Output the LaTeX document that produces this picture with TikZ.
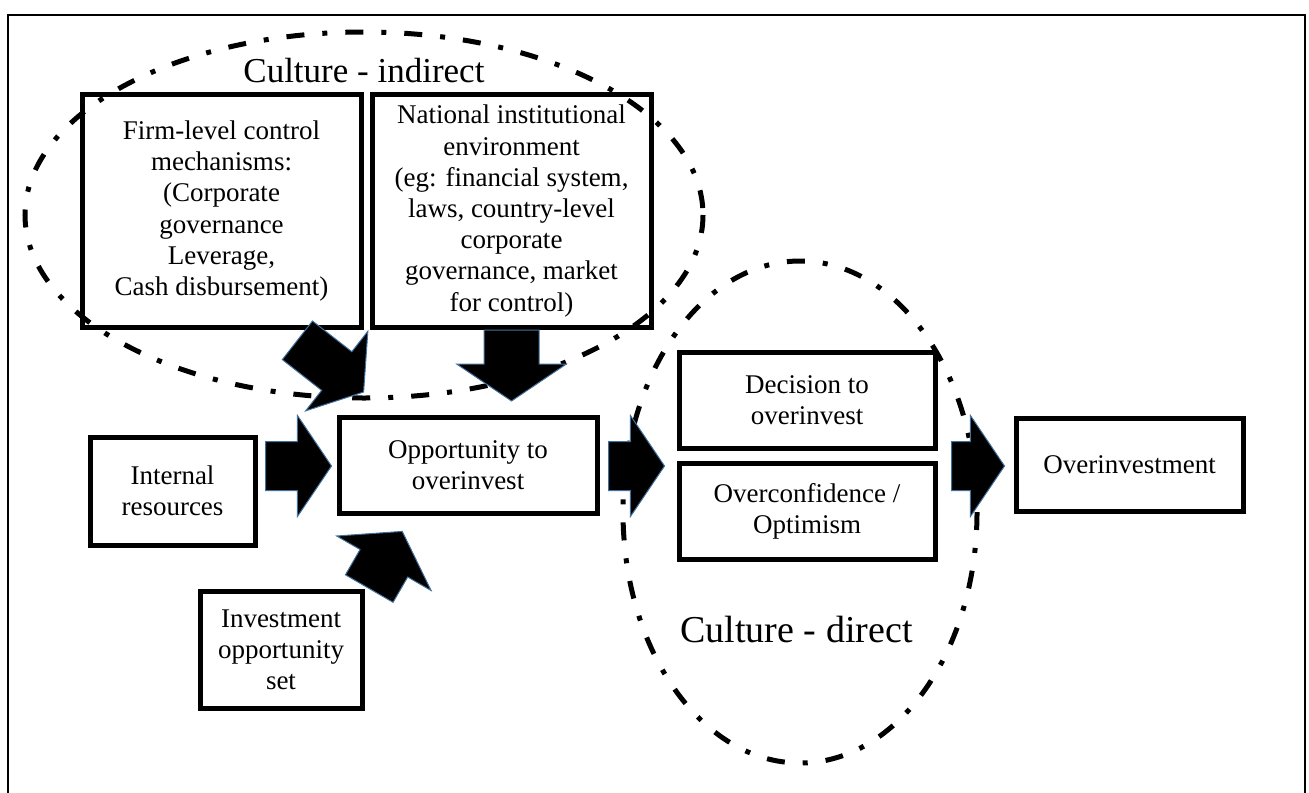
\documentclass[tikz,border=0pt]{standalone}
\usepackage{fontspec}
\setmainfont{Liberation Serif}
\usetikzlibrary{shapes.arrows}
\definecolor{arrowblue}{HTML}{41719C}

\begin{document}
\begin{tikzpicture}[x=0.5pt, y=-0.5pt,
  box/.style = {draw, line width=2.5pt, align=center, inner sep=2pt, font=\fontsize{13.5}{15.6}\selectfont},
  blk/.style = {single arrow, fill=black, draw=arrowblue, line width=0.5pt, inner xsep=0pt, inner ysep=12pt,
    single arrow head extend=13pt, single arrow tip angle=112, anchor=tail},
  bigblk/.style = {blk, inner ysep=13.5pt, single arrow head extend=13.5pt},
  culture/.style = {line width=2.5pt, dash pattern=on 9pt off 9pt on 2.5pt off 9pt},
  lbl/.style = {font=\fontsize{17.5}{21}\selectfont, inner sep=0pt, anchor=base west}]
\useasboundingbox (0,0) rectangle (1309,792);
\draw[line width=1.2pt] (8,800) -- (8,15) -- (1305,15) -- (1305,800);

% boxes
\node[box, minimum width=139.5pt, minimum height=116pt] (firm) at (221.5,211)
  {Firm-level control\\mechanisms:\\(Corporate\\governance\\Leverage,\\Cash disbursement)};
\node[box, minimum width=139.5pt, minimum height=116pt] (natl) at (511.5,211)
  {National institutional\\environment\\(eg: financial system,\\laws, country-level\\corporate\\governance, market\\for control)};
\node[box, minimum width=82.5pt, minimum height=54pt] (intres) at (172.5,491) {Internal\\resources};
\node[box, minimum width=129pt, minimum height=48pt] (opp) at (468,465) {Opportunity to\\overinvest};
\node[box, minimum width=81pt, minimum height=58.5pt] (invset) at (281,649.5) {Investment\\opportunity\\set};
\node[box, minimum width=128pt, minimum height=48pt] (dec) at (807,400) {Decision to\\overinvest};
\node[box, minimum width=128pt, minimum height=48pt] (ovc) at (807,511) {Overconfidence /\\Optimism};
\node[box, minimum width=113.5pt, minimum height=46.5pt] (ovi) at (1129.5,464.5) {Overinvestment};

% culture ellipses
\draw[culture] (364,215) ellipse [x radius=339, y radius=183];
\draw[culture] (800,512) ellipse [x radius=177, y radius=251];

% block arrows
\node[bigblk, rotate=-90, minimum height=35.5pt] (anatl) at (natl.south) {};
\node[blk, rotate=-38, minimum height=42pt] (afirm) at (297,340) {};
\node[blk, minimum height=33pt] (aint) at (265,466) {};
\node[bigblk, rotate=60, minimum height=33pt] (ainv) at (369,589) {};
\node[blk, minimum height=28pt] (adec) at (608,466) {};
\node[blk, minimum height=26.5pt] (aovi) at (951,466) {};

% labels
\node[lbl] (cind) at (243,83) {Culture - indirect};
\node[lbl, font=\fontsize{19}{23}\selectfont] (cdir) at (680,642) {Culture - direct};
\end{tikzpicture}
\end{document}
